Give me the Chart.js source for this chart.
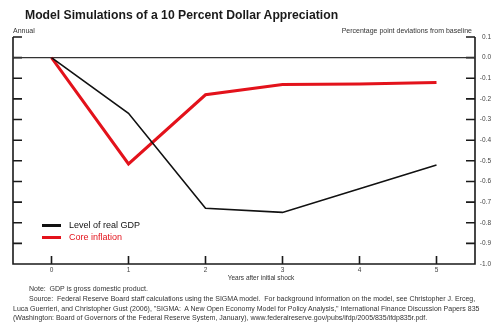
<!DOCTYPE html>
<html>
<head>
<meta charset="utf-8">
<script src="https://cdn.jsdelivr.net/npm/chart.js@4/dist/chart.umd.min.js"></script>
<style>
  html, body { margin: 0; padding: 0; background: #fff; }
  #wrap {
    position: relative; width: 500px; height: 326px; overflow: hidden;
    font-family: "Liberation Sans", Arial, sans-serif; color: #333;
  }
  #chart { position: absolute; left: 0; top: 0; }
  .txt { position: absolute; white-space: pre; line-height: 1; }
  .title { left: 25px; top: 9px; font-size: 12.2px; font-weight: bold; color: #1a1a1a; }
  .unit { top: 27px; font-size: 7px; }
  .xtitle { top: 275px; left: 0; width: 522px; text-align: center; font-size: 6.5px; }
  .legend { position: absolute; left: 42px; top: 220px; font-size: 9px; line-height: 11.6px; }
  .legend div { position: relative; padding-left: 27px; white-space: nowrap; }
  .legend i { position: absolute; left: 0; top: 4px; width: 19px; height: 3px; }
  .note { font-size: 7px; color: #333; }
</style>
</head>
<body>
<div id="wrap">
  <canvas id="chart" width="500" height="326"></canvas>
  <div class="txt title">Model Simulations of a 10 Percent Dollar Appreciation</div>
  <div class="txt unit" style="left:13px">Annual</div>
  <div class="txt unit" style="right:28px">Percentage point deviations from baseline</div>
  <div class="txt xtitle">Years after initial shock</div>
  <div class="legend" id="legend"></div>
  <div class="txt note" style="left:29px; top:285px">Note:  GDP is gross domestic product.</div>
  <div class="txt note" style="left:29px; top:295px">Source:  Federal Reserve Board staff calculations using the SIGMA model.  For background information on the model, see Christopher J. Erceg,</div>
  <div class="txt note" style="left:13px; top:304.8px">Luca Guerrieri, and Christopher Gust (2006), "SIGMA:  A New Open Economy Model for Policy Analysis," International Finance Discussion Papers 835</div>
  <div class="txt note" style="left:13px; top:314.2px">(Washington: Board of Governors of the Federal Reserve System, January), www.federalreserve.gov/pubs/ifdp/2005/835/ifdp835r.pdf.</div>
</div>
<script>
// years after the shock, and the two simulated responses (pp deviation from baseline)
const years = ['0', '1', '2', '3', '4', '5'];
const realGdp = [0, -0.27, -0.73, -0.75, -0.635, -0.52];
const coreInflation = [0, -0.515, -0.18, -0.13, -0.128, -0.12];

const yMin = -1.0;
const yMax = 0.1;
const yStep = 0.1;

const seriesNames = ['Level of real GDP', 'Core inflation'];
const seriesColors = ['#111111', '#e3121b'];

// frame, zero line and inward tick marks, all placed from the scales
const framePlugin = {
    id: 'frame',
    beforeDatasetsDraw(chart) {
        const { ctx, chartArea: a, scales: { x, y } } = chart;
        const top = y.getPixelForValue(yMax);
        ctx.save();
        ctx.strokeStyle = '#1a1a1a';
        ctx.lineWidth = 1.6;
        ctx.beginPath();
        ctx.moveTo(a.left, top);
        ctx.lineTo(a.left, a.bottom);
        ctx.lineTo(a.right, a.bottom);
        ctx.lineTo(a.right, top);
        y.ticks.forEach((t, i) => {
            const py = y.getPixelForTick(i);
            ctx.moveTo(a.left, py); ctx.lineTo(a.left + 9, py);
            ctx.moveTo(a.right - 9, py); ctx.lineTo(a.right, py);
        });
        x.ticks.forEach((t, i) => {
            const px = x.getPixelForTick(i);
            ctx.moveTo(px, a.bottom); ctx.lineTo(px, a.bottom - 8);
        });
        ctx.stroke();

        const y0 = y.getPixelForValue(0);
        ctx.lineWidth = 1.2;
        ctx.strokeStyle = '#333';
        ctx.beginPath();
        ctx.moveTo(a.left, y0); ctx.lineTo(a.right, y0);
        ctx.stroke();
        ctx.restore();
    }
};

function buildLegend() {
    const box = document.getElementById('legend');
    seriesNames.forEach((name, i) => {
        const row = document.createElement('div');
        row.style.color = seriesColors[i];
        row.innerHTML = `<i style="background:${seriesColors[i]}"></i>${name}`;
        box.appendChild(row);
    });
}

function renderChart() {
    const ctx = document.getElementById('chart').getContext('2d');
    return new Chart(ctx, {
        type: 'line',
        data: {
            labels: years,
            datasets: [
                { label: seriesNames[0], data: realGdp, borderColor: seriesColors[0], borderWidth: 1.6 },
                { label: seriesNames[1], data: coreInflation, borderColor: seriesColors[1], borderWidth: 3 },
            ],
        },
        options: {
            responsive: false,
            devicePixelRatio: 1,
            animation: false,
            events: [],
            elements: { point: { radius: 0 }, line: { tension: 0, borderJoinStyle: 'miter' } },
            layout: { padding: { left: 13, top: 37, right: 9, bottom: 0 } },
            plugins: { legend: { display: false }, tooltip: { enabled: false } },
            scales: {
                x: {
                    type: 'category',
                    offset: true,
                    grid: { display: false, drawTicks: false },
                    border: { display: false },
                    ticks: { padding: 2, maxRotation: 0, color: '#444', font: { size: 6.5, family: "'Liberation Sans', Arial" } },
                    afterFit: s => { s.height = 62; },
                },
                y: {
                    position: 'right',
                    min: yMin,
                    max: yMax,
                    grid: { display: false, drawTicks: false },
                    border: { display: false },
                    ticks: {
                        stepSize: yStep,
                        padding: 6,
                        crossAlign: 'far',
                        color: '#444',
                        font: { size: 6.5, family: "'Liberation Sans', Arial" },
                        callback: v => v.toFixed(1),
                    },
                    afterFit: s => { s.width = 16; },
                },
            },
        },
        plugins: [framePlugin],
    });
}

buildLegend();
renderChart();
</script>
</body>
</html>
